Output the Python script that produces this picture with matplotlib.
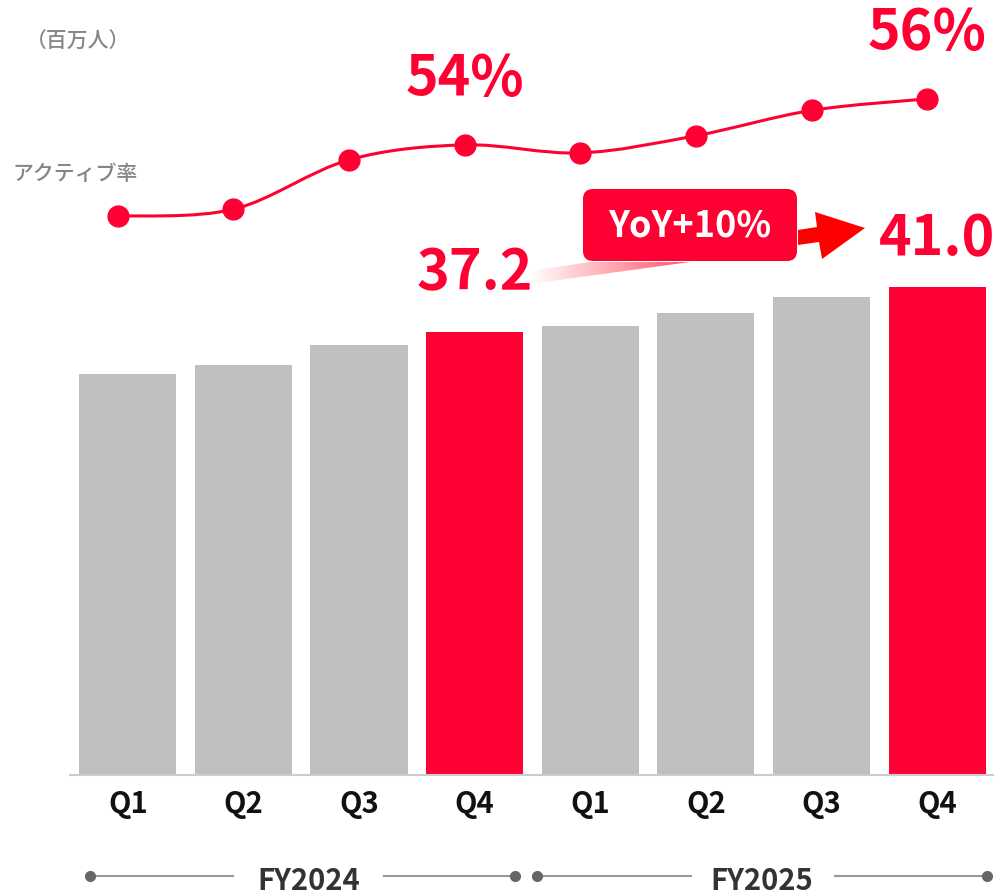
import matplotlib
matplotlib.use("Agg")
import matplotlib.pyplot as plt
import matplotlib.transforms as mtransforms
import numpy as np
from matplotlib.path import Path
from matplotlib.patches import PathPatch, Polygon, FancyBboxPatch
from matplotlib.lines import Line2D

plt.rcParams['font.family'] = ['Noto Sans CJK JP', 'DejaVu Sans']

# データ
quarters = ['Q1', 'Q2', 'Q3', 'Q4', 'Q1', 'Q2', 'Q3', 'Q4']
fiscal_years = ['FY2024', 'FY2025']
users = [33.7, 34.4, 36.1, 37.2, 37.7, 38.8, 40.1, 41.0]      # 百万人
active_rate = [50.9, 51.2, 53.35, 54.0, 53.65, 54.4, 55.5, 56.0]  # %
highlight = [3, 7]
yoy_text = 'YoY+10%'

RED = '#FF0033'
GRAY_BAR = '#BFBFBF'
W, H = 995, 896

fig = plt.figure(figsize=(W / 100, H / 100), dpi=100)

# 棒グラフ
ax = fig.add_axes([70 / W, (H - 775) / H, 925 / W, 775 / H])
x = np.arange(len(users))
colors = [RED if i in highlight else GRAY_BAR for i in x]
ax.bar(x, users, width=0.84, color=colors, zorder=2)
ax.set_xlim(-0.5, 7.5)
ax.set_ylim(0, 65.08)
for s in ['top', 'right', 'left']:
    ax.spines[s].set_visible(False)
ax.spines['bottom'].set_color('#CCCCCC')
ax.spines['bottom'].set_linewidth(1.5)
ax.set_yticks([])
ax.set_xticks(x)
ax.set_xticklabels(quarters, fontsize=21, fontweight='bold', color='#111111')
ax.tick_params(axis='x', length=0, pad=10)
ax.patch.set_alpha(0)

for i, off in zip(highlight, [22, 14]):
    ax.annotate(f'{users[i]:.1f}', (x[i], users[i]), xytext=(0, off),
                textcoords='offset points', ha='center', va='bottom',
                fontsize=40, fontweight='bold', color=RED)

# アクティブ率 (折れ線) - 棒の中心より少し左にずれている
ax2 = ax.twinx()
ax2.set_ylim(26.6, 60.3)
ax2.axis('off')
shift = ax2.transData + mtransforms.ScaledTranslation(-0.10, 0, fig.dpi_scale_trans)

# Catmull-Rom -> Bezier でなめらかな線
pts = np.column_stack([x, active_rate]).astype(float)
ext = np.vstack([pts[0], pts, pts[-1]])
verts = [tuple(pts[0])]
codes = [Path.MOVETO]
for i in range(1, len(ext) - 2):
    p0, p1, p2, p3 = ext[i - 1], ext[i], ext[i + 1], ext[i + 2]
    c1 = p1 + (p2 - p0) / 6
    c2 = p2 - (p3 - p1) / 6
    verts += [tuple(c1), tuple(c2), tuple(p2)]
    codes += [Path.CURVE4] * 3
ax2.add_patch(PathPatch(Path(verts, codes), facecolor='none', edgecolor=RED, lw=2.2,
                        zorder=3, transform=shift))
ax2.plot(x, active_rate, 'o', color=RED, markersize=15, zorder=4, transform=shift)

for i in highlight:
    ax2.annotate(f'{active_rate[i]:.0f}%', (x[i], active_rate[i]), xycoords=shift,
                 xytext=(0, 27), textcoords='offset points', ha='center', va='bottom',
                 fontsize=40, fontweight='bold', color=RED)

# ピクセル座標のオーバーレイ
ov = fig.add_axes([0, 0, 1, 1])
ov.set_xlim(0, W)
ov.set_ylim(H, 0)
ov.axis('off')
ov.patch.set_alpha(0)

ov.text(26, 42, '（百万人）', fontsize=15, fontweight='medium', color='#858585',
        ha='left', va='center')
ov.text(12, 174, 'アクティブ率', fontsize=15, fontweight='medium', color='#858585',
        ha='left', va='center')

# グラデーションのくさび
wedge = Polygon([(530, 271), (590, 262), (690, 262), (530, 284)], closed=True,
                facecolor='none', edgecolor='none')
ov.add_patch(wedge)
grad = np.linspace(0, 1, 256).reshape(1, -1)
cmap = matplotlib.colors.LinearSegmentedColormap.from_list('w2r', ['#FFFFFF', '#FF5566'])
im = ov.imshow(grad, extent=(530, 690, 284, 262), cmap=cmap, aspect='auto', zorder=1)
im.set_clip_path(wedge)

# YoY ボックス
box = FancyBboxPatch((583, 189), 214, 72, boxstyle='round,pad=0,rounding_size=10',
                     facecolor=RED, edgecolor='none', zorder=3)
ov.add_patch(box)
ov.text(690, 226, yoy_text, fontsize=26, fontweight='bold', color='white',
        ha='center', va='center', zorder=4)

# 矢印
arrow = Polygon([(798, 230), (817, 227), (815, 212), (865, 228), (822, 259), (819, 242), (798, 245)],
                closed=True, facecolor='#FF0000', edgecolor='none', zorder=3)
ov.add_patch(arrow)

# 年度ブラケット
brackets = [(90, 233, 384, 515, 309), (537, 691, 835, 987, 762)]
for (a, b, c, d, tx), fy in zip(brackets, fiscal_years):
    ov.add_line(Line2D([a, b], [876, 876], color='#999999', lw=1.5))
    ov.add_line(Line2D([c, d], [876, 876], color='#999999', lw=1.5))
    ov.plot([a, d], [876, 876], 'o', color='#666666', markersize=7)
    ov.text(tx, 881, fy, fontsize=21, fontweight='bold', color='#333333',
            ha='center', va='center')

fig.savefig('out.png', dpi=100)
